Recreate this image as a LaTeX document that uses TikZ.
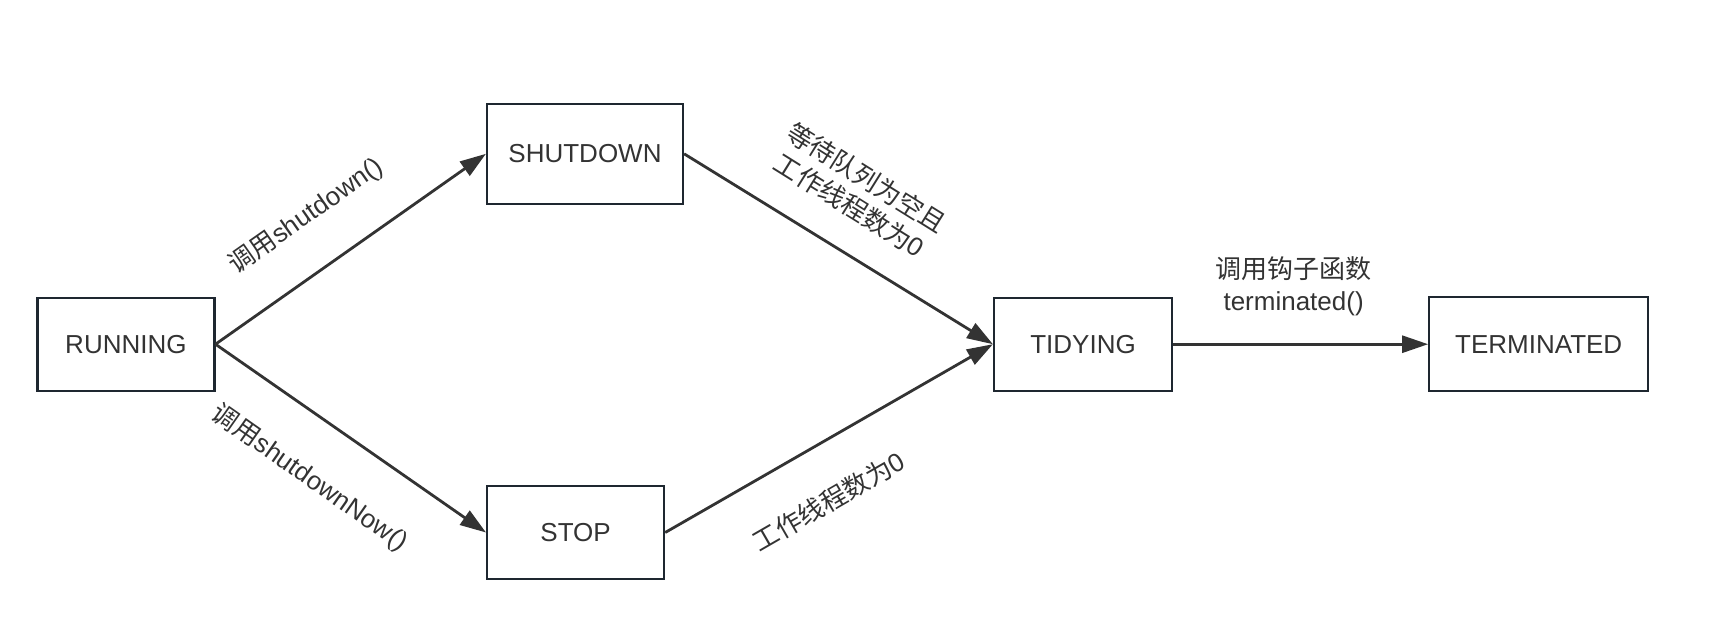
\documentclass[tikz,border=0pt]{standalone}
\usepackage{fontspec}
\setmainfont{Liberation Sans}
\newfontfamily\cjk{Noto Sans CJK SC}
\usetikzlibrary{arrows.meta}
\definecolor{ink}{HTML}{333333}
\definecolor{boxline}{HTML}{1E2730}
\begin{document}
\begin{tikzpicture}[x=0.5pt,y=-0.5pt,
  state/.style={draw=boxline, line width=1.1pt, minimum height=46.5pt, inner sep=0pt,
    font=\fontsize{13}{16}\selectfont, text=ink},
  flow/.style={draw=ink, line width=1.4pt, -{Triangle[length=13pt,width=8.5pt]}},
  lbl/.style={font=\fontsize{13}{16}\selectfont, text=ink, align=center, inner sep=0pt}]
\useasboundingbox (0,0) rectangle (1716,638);
\node[state, minimum width=88.5pt] (run) at (125.9,344.2) {RUNNING};
\node[state, minimum width=98pt, minimum height=50pt] (shut) at (585,153.8) {SHUTDOWN};
\node[state, minimum width=88.5pt] (stop) at (575.6,532.5) {STOP};
\node[state, minimum width=89pt] (tidy) at (1083,344.2) {TIDYING};
\node[state, minimum width=109.5pt, minimum height=47pt] (term) at (1538.7,344.2) {TERMINATED};
\draw[flow] (run.east) -- (shut.west);
\draw[flow] (run.east) -- (stop.west);
\draw[flow] (shut.east) -- (tidy.west);
\draw[flow] (stop.east) -- (tidy.west);
\draw[flow] (tidy.east) -- (term.west);
\node[lbl, rotate=35] (l1) at (306,216) {{\cjk 调用}shutdown()};
\node[lbl, rotate=-35] (l2) at (309.7,478) {{\cjk 调用}shutdownNow()};
\node[lbl, rotate=-32] (l3) at (858,191.5) {{\cjk 等待队列为空且}\\{\cjk 工作线程数为}0};
\node[lbl, rotate=30] (l4) at (828.5,501) {{\cjk 工作线程数为}0};
\node[lbl] (l5) at (1293.6,286.7) {{\cjk 调用钩子函数}\\terminated()};
\end{tikzpicture}
\end{document}
